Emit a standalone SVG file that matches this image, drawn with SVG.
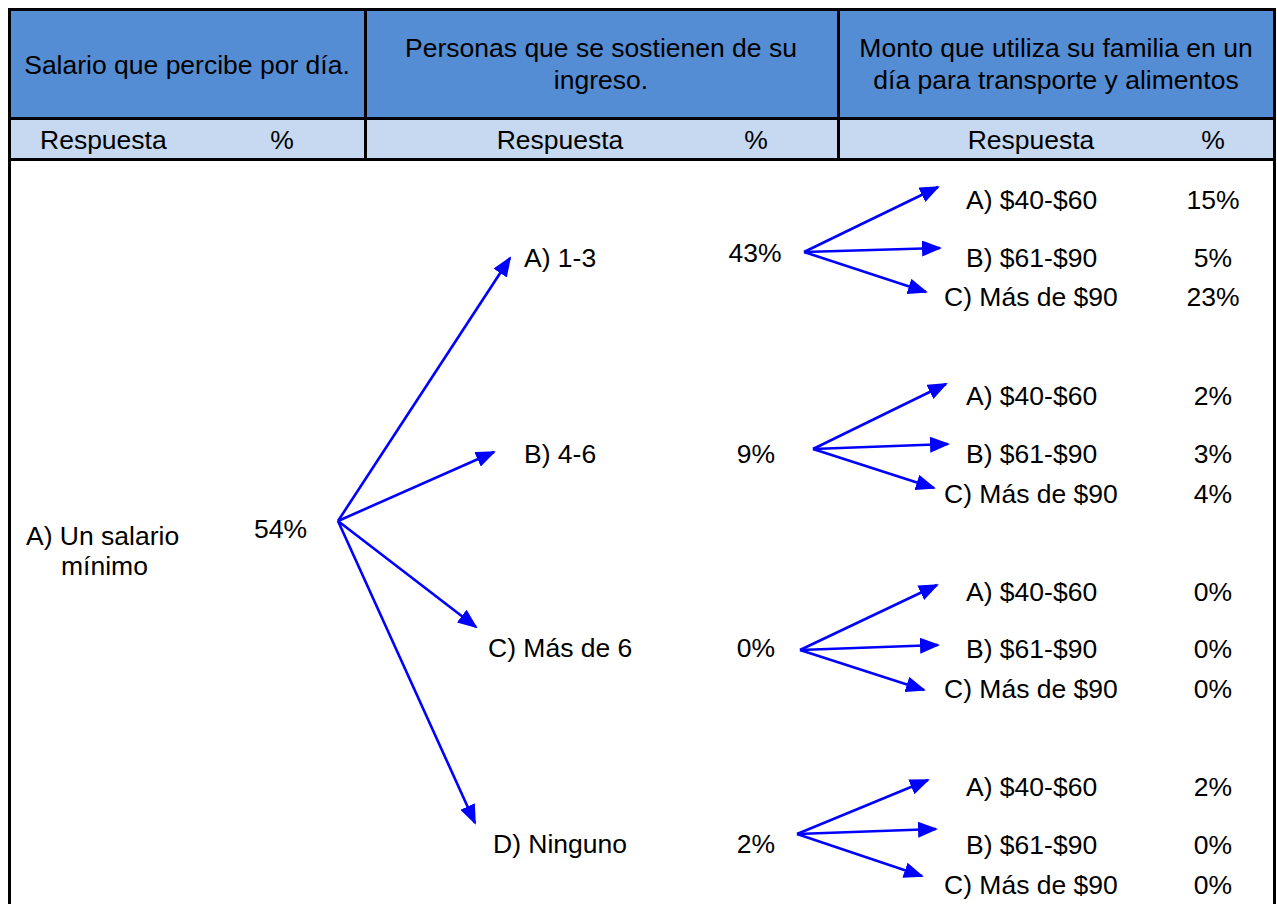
<svg xmlns="http://www.w3.org/2000/svg" width="1277" height="904" viewBox="0 0 1277 904">
<style>
text{font-family:"Liberation Sans",Arial,sans-serif;font-size:26.5px;fill:#000}
.m{text-anchor:middle}
.b{stroke:#000;stroke-width:3;fill:none}
.a{stroke:#0000FF;stroke-width:2.6;fill:none;marker-end:url(#ah)}
</style>
<defs>
<marker id="ah" markerUnits="userSpaceOnUse" markerWidth="20" markerHeight="16" viewBox="0 0 20 16" refX="18" refY="8" orient="auto">
<path d="M0,0 L20,8 L0,16 z" fill="#0000FF"/>
</marker>
</defs>
<rect width="1277" height="904" fill="#fff"/>
<g id="header">
<rect x="9" y="9" width="1265" height="110" fill="#548DD4"/>
<rect x="9" y="119" width="1265" height="41" fill="#C6D9F1"/>
<text class="m" x="187" y="74">Salario que percibe por día.</text>
<text class="m" x="601" y="57">Personas que se sostienen de su</text>
<text class="m" x="601" y="89">ingreso.</text>
<text class="m" x="1056" y="57">Monto que utiliza su familia en un</text>
<text class="m" x="1056" y="89">día para transporte y alimentos</text>
<text x="40" y="149">Respuesta</text>
<text class="m" x="282" y="149">%</text>
<text class="m" x="560" y="149">Respuesta</text>
<text class="m" x="756" y="149">%</text>
<text class="m" x="1031" y="149">Respuesta</text>
<text class="m" x="1213" y="149">%</text>
</g>
<g id="grid">
<path class="b" d="M8,9.5 H1276 M8,118.5 H1276 M8,159.5 H1276 M9.5,8 V904 M1274.5,8 V904 M365.5,8 V160 M838.5,8 V160"/>
</g>
<g id="n-root">
<text x="26" y="545">A) Un salario</text>
<text x="61" y="575">mínimo</text>
<text x="254" y="538">54%</text>
</g>
<g id="n-a13">
<text x="524" y="267">A) 1-3</text>
<text class="m" x="755" y="262">43%</text>
</g>
<g id="n-b46">
<text x="524" y="463">B) 4-6</text>
<text class="m" x="756" y="463">9%</text>
</g>
<g id="n-c6">
<text x="488" y="657">C) Más de 6</text>
<text class="m" x="756" y="657">0%</text>
</g>
<g id="n-dn">
<text x="493" y="853">D) Ninguno</text>
<text class="m" x="756" y="853">2%</text>
</g>
<g id="n-g1">
<text x="966" y="209">A) $40-$60</text><text class="m" x="1213" y="209">15%</text>
<text x="966" y="267">B) $61-$90</text><text class="m" x="1213" y="267">5%</text>
<text x="944" y="306">C) Más de $90</text><text class="m" x="1213" y="306">23%</text>
</g>
<g id="n-g2">
<text x="966" y="405">A) $40-$60</text><text class="m" x="1213" y="405">2%</text>
<text x="966" y="463">B) $61-$90</text><text class="m" x="1213" y="463">3%</text>
<text x="944" y="503">C) Más de $90</text><text class="m" x="1213" y="503">4%</text>
</g>
<g id="n-g3">
<text x="966" y="601">A) $40-$60</text><text class="m" x="1213" y="601">0%</text>
<text x="966" y="658">B) $61-$90</text><text class="m" x="1213" y="658">0%</text>
<text x="944" y="698">C) Más de $90</text><text class="m" x="1213" y="698">0%</text>
</g>
<g id="n-g4">
<text x="966" y="796">A) $40-$60</text><text class="m" x="1213" y="796">2%</text>
<text x="966" y="854">B) $61-$90</text><text class="m" x="1213" y="854">0%</text>
<text x="944" y="894">C) Más de $90</text><text class="m" x="1213" y="894">0%</text>
</g>
<g id="connectors">
<line class="a" x1="338" y1="521" x2="510" y2="258"/>
<line class="a" x1="338" y1="521" x2="494" y2="452"/>
<line class="a" x1="338" y1="521" x2="476" y2="627"/>
<line class="a" x1="338" y1="521" x2="475" y2="823"/>
<line class="a" x1="804" y1="252" x2="938" y2="187"/>
<line class="a" x1="804" y1="252" x2="940" y2="248"/>
<line class="a" x1="804" y1="252" x2="926" y2="292"/>
<line class="a" x1="813" y1="449" x2="946" y2="384"/>
<line class="a" x1="813" y1="449" x2="948" y2="444"/>
<line class="a" x1="813" y1="449" x2="934" y2="488"/>
<line class="a" x1="800" y1="650" x2="937" y2="585"/>
<line class="a" x1="800" y1="650" x2="938" y2="645"/>
<line class="a" x1="800" y1="650" x2="924" y2="690"/>
<line class="a" x1="797" y1="834" x2="928" y2="780"/>
<line class="a" x1="797" y1="834" x2="936" y2="829"/>
<line class="a" x1="797" y1="834" x2="922" y2="876"/>
</g>
</svg>
